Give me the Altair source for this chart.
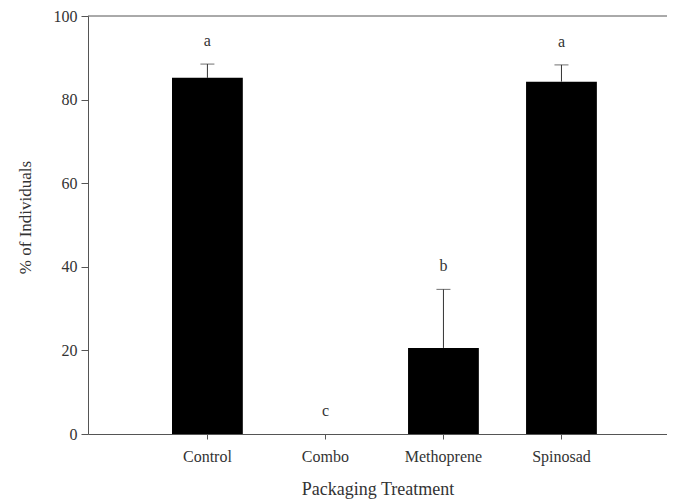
import altair as alt
import pandas as pd

treatments = ["Control", "Combo", "Methoprene", "Spinosad"]
means = [85.2, 0.0, 20.6, 84.3]
errors = [3.3, 0.0, 14.0, 4.0]
letters = ["a", "c", "b", "a"]

df = pd.DataFrame({"t": treatments, "m": means, "e": errors, "lab": letters})
df["top"] = df["m"] + df["e"]
df["ly"] = df["top"] + 5.5

FONT = "Liberation Serif"

xscale = alt.Scale(domain=treatments, paddingInner=0.4, paddingOuter=0.653, align=0.545)
yscale = alt.Scale(domain=[0, 100], nice=False)

xenc = alt.X("t:N", scale=xscale, sort=treatments,
             axis=alt.Axis(title="Packaging Treatment", labelAngle=0, tickSize=5,
                           labelFont=FONT, titleFont=FONT, labelFontSize=16, titleFontSize=18,
                           titleFontWeight="normal", labelColor="#333", titleColor="#333",
                           domainColor="#555", tickColor="#555", labelPadding=9, titlePadding=16))

base = alt.Chart(df)

bars = base.mark_bar(color="black").encode(
    x=xenc,
    y=alt.Y("m:Q", scale=yscale,
            axis=alt.Axis(title="% of Individuals", values=[0, 20, 40, 60, 80, 100], tickSize=7,
                          labelFont=FONT, titleFont=FONT, labelFontSize=16, titleFontSize=17,
                          titleFontWeight="normal", labelColor="#333", titleColor="#333",
                          domainColor="#555", tickColor="#555", grid=False, labelPadding=4,
                          titlePadding=19, titleY=201)),
)

err = base.transform_filter("datum.e > 0").mark_rule(color="#333", strokeWidth=1).encode(
    x="t:N", y="m:Q", y2="top:Q")
caps = base.transform_filter("datum.e > 0").mark_tick(color="#333", thickness=1, size=14, orient="horizontal").encode(
    x="t:N", y="top:Q")
txt = base.mark_text(font=FONT, fontSize=16, color="#333", baseline="middle").encode(
    x="t:N", y="ly:Q", text="lab:N")
topline = alt.Chart(pd.DataFrame({"v": [100]})).mark_rule(color="#555", strokeWidth=1).encode(
    y=alt.Y("v:Q", scale=yscale))

chart = alt.layer(bars, err, caps, txt, topline).properties(
    width=579, height=418,
    autosize=alt.AutoSizeParams(type="none"),
    padding={"left": 80, "top": 8, "right": 0, "bottom": 70},
).configure_view(stroke=None)

chart.save("out.html", embed_options={"renderer": "svg", "actions": False})
